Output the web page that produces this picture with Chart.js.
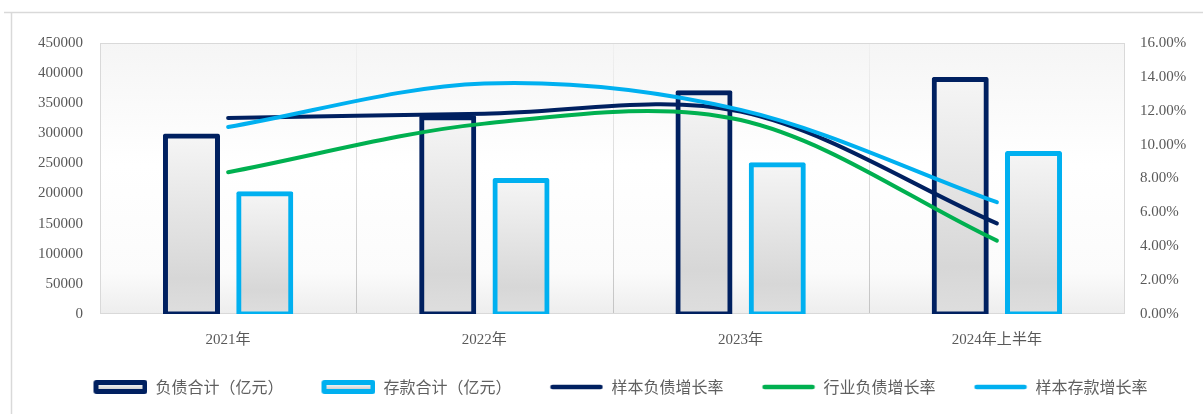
<!DOCTYPE html>
<html>
<head>
<meta charset="utf-8">
<script src="https://cdn.jsdelivr.net/npm/chart.js@4.4.1/dist/chart.umd.min.js"></script>
<style>
  html, body { margin: 0; padding: 0; background: #ffffff; }
  #wrap { width: 1203px; height: 414px; position: relative; }
  canvas { display: block; }
</style>
</head>
<body>
<div id="wrap"><canvas id="c" width="1203" height="414"></canvas></div>
<script>
// Categories (years)
const categories = ['2021年', '2022年', '2023年', '2024年上半年'];

// Totals, 亿元 (left axis)
const liabilitiesTotal = [295500, 326000, 367500, 389500];
const depositsTotal = [199500, 221500, 248000, 266500];

// Growth rates, % (right axis)
const sampleLiabilityGrowth = [11.57, 11.83, 11.95, 5.35];
const industryLiabilityGrowth = [8.37, 11.24, 11.45, 4.33];
const sampleDepositGrowth = [11.04, 13.61, 12.05, 6.60];

// Axis tick settings
const leftMax = 450000, leftStep = 50000;
const rightMax = 16, rightStep = 2;

const NAVY = '#002060';
const SKY = '#00B0F0';
const GREEN = '#00B050';
const TEXT = '#595959';

// Legend icon geometry: transparent lead-in gap, then the 54px icon
const ICON_GAP = 28, ICON_W = 54, ICON_H = 14;

// Vertical grey gradient inside each bar
function barFill(context) {
  const chart = context.chart;
  if (!chart.chartArea || context.type !== 'data') return '#e3e3e3';
  const y = chart.scales.y;
  const top = y.getPixelForValue(context.raw);
  const base = y.getPixelForValue(0);
  const g = chart.ctx.createLinearGradient(0, top, 0, base);
  g.addColorStop(0, '#f5f5f5');
  g.addColorStop(0.8, '#d7d7d7');
  g.addColorStop(1, '#dedede');
  return g;
}

function iconCanvas() {
  const c = document.createElement('canvas');
  c.width = ICON_GAP + ICON_W; c.height = ICON_H;
  return c;
}

// Legend icon for a bar series: thick coloured frame around a grey stripe
function barSwatch(color) {
  const c = iconCanvas();
  const g = c.getContext('2d');
  const x0 = ICON_GAP;
  g.fillStyle = color;
  g.beginPath();
  if (g.roundRect) g.roundRect(x0, 0, ICON_W, ICON_H, 3); else g.rect(x0, 0, ICON_W, ICON_H);
  g.fill();
  const gr = g.createLinearGradient(0, 5, 0, 9);
  gr.addColorStop(0, '#f0f0f0');
  gr.addColorStop(1, '#d2d2d2');
  g.fillStyle = gr;
  g.fillRect(x0 + 5, 5, ICON_W - 10, 4);
  return c;
}

// Legend icon for a line series: short round-capped stroke
function lineSwatch(color) {
  const c = iconCanvas();
  const g = c.getContext('2d');
  g.strokeStyle = color;
  g.lineWidth = 4.5;
  g.lineCap = 'round';
  g.beginPath();
  g.moveTo(ICON_GAP + 3, ICON_H / 2);
  g.lineTo(ICON_GAP + ICON_W - 3, ICON_H / 2);
  g.stroke();
  return c;
}

// Outer frame lines around the figure
const outerFrame = {
  id: 'outerFrame',
  beforeDraw(chart) {
    const ctx = chart.ctx;
    ctx.save();
    ctx.strokeStyle = '#d9d9d9';
    ctx.lineWidth = 1.5;
    ctx.beginPath();
    ctx.moveTo(4, 12.5); ctx.lineTo(chart.width, 12.5);
    ctx.moveTo(11.5, 12); ctx.lineTo(11.5, chart.height);
    ctx.stroke();
    ctx.restore();
  }
};

// Plot area backdrop: soft vertical gradient, band separators, thin border
const plotBackdrop = {
  id: 'plotBackdrop',
  beforeDatasetsDraw(chart) {
    const { ctx, chartArea: a, scales: { x } } = chart;
    ctx.save();
    const g = ctx.createLinearGradient(0, a.top, 0, a.bottom);
    g.addColorStop(0, '#f5f5f5');
    g.addColorStop(0.45, '#ffffff');
    g.addColorStop(0.85, '#fbfbfb');
    g.addColorStop(1, '#ededed');
    ctx.fillStyle = g;
    ctx.fillRect(a.left, a.top, a.width, a.height);

    const sg = ctx.createLinearGradient(0, a.top, 0, a.bottom);
    sg.addColorStop(0, '#f0f0f0');
    sg.addColorStop(1, '#c4c4c4');
    ctx.strokeStyle = sg;
    ctx.lineWidth = 1;
    ctx.beginPath();
    for (let i = 0; i < categories.length - 1; i++) {
      const px = Math.round((x.getPixelForTick(i) + x.getPixelForTick(i + 1)) / 2) + 0.5;
      ctx.moveTo(px, a.top);
      ctx.lineTo(px, a.bottom);
    }
    ctx.stroke();

    ctx.strokeStyle = '#d9d9d9';
    ctx.strokeRect(a.left + 0.5, a.top + 0.5, a.width - 1, a.height - 1);
    ctx.restore();
  }
};

const legendIcons = {
  0: barSwatch(NAVY),
  1: barSwatch(SKY),
  2: lineSwatch(NAVY),
  3: lineSwatch(GREEN),
  4: lineSwatch(SKY)
};
const tickFont = { family: '"Liberation Serif", "Noto Sans CJK SC", serif', size: 15 };

new Chart(document.getElementById('c'), {
  type: 'bar',
  data: {
    labels: categories,
    datasets: [
      {
        type: 'bar', label: '负债合计（亿元）', data: liabilitiesTotal, yAxisID: 'y',
        borderColor: NAVY, backgroundColor: barFill, borderWidth: 5, borderRadius: 2,
        borderSkipped: false, inflateAmount: 2.5,
        barPercentage: 0.71, categoryPercentage: 0.572, order: 3
      },
      {
        type: 'bar', label: '存款合计（亿元）', data: depositsTotal, yAxisID: 'y',
        borderColor: SKY, backgroundColor: barFill, borderWidth: 5, borderRadius: 2,
        borderSkipped: false, inflateAmount: 2.5,
        barPercentage: 0.71, categoryPercentage: 0.572, order: 3
      },
      {
        type: 'line', label: '样本负债增长率', data: sampleLiabilityGrowth, yAxisID: 'y1',
        borderColor: NAVY, backgroundColor: NAVY, borderWidth: 4, tension: 0.33,
        pointRadius: 0, borderCapStyle: 'round', fill: false, order: 1
      },
      {
        type: 'line', label: '行业负债增长率', data: industryLiabilityGrowth, yAxisID: 'y1',
        borderColor: GREEN, backgroundColor: GREEN, borderWidth: 4, tension: 0.33,
        pointRadius: 0, borderCapStyle: 'round', fill: false, order: 2
      },
      {
        type: 'line', label: '样本存款增长率', data: sampleDepositGrowth, yAxisID: 'y1',
        borderColor: SKY, backgroundColor: SKY, borderWidth: 4, tension: 0.33,
        pointRadius: 0, borderCapStyle: 'round', fill: false, order: 0
      }
    ]
  },
  options: {
    responsive: false,
    animation: false,
    devicePixelRatio: 1,
    layout: { padding: { top: 43, left: 10, right: 0, bottom: 9 } },
    scales: {
      x: {
        offset: true,
        grid: { display: false, drawTicks: false },
        border: { display: false },
        ticks: { color: TEXT, font: tickFont, padding: 17, maxRotation: 0 },
        afterFit(scale) { scale.height = 55; }
      },
      y: {
        position: 'left', min: 0, max: leftMax,
        grid: { display: false, drawTicks: false },
        border: { display: false },
        ticks: { stepSize: leftStep, color: TEXT, font: tickFont, padding: 17,
          callback: v => String(v) },
        afterFit(scale) { scale.width = 90; }
      },
      y1: {
        position: 'right', min: 0, max: rightMax,
        grid: { display: false, drawTicks: false },
        border: { display: false },
        ticks: {
          stepSize: rightStep, color: TEXT, font: tickFont, padding: 15,
          callback: v => v.toFixed(2) + '%'
        },
        afterFit(scale) { scale.width = 78; }
      }
    },
    plugins: {
      tooltip: { enabled: false },
      legend: {
        position: 'bottom',
        labels: {
          usePointStyle: true,
          pointStyleWidth: ICON_GAP + ICON_W,
          padding: 10,
          color: '#5f5f5f',
          font: { family: '"Noto Sans CJK SC", sans-serif', size: 16 },
          sort: (a, b) => a.datasetIndex - b.datasetIndex,
          generateLabels(chart) {
            const items = Chart.defaults.plugins.legend.labels.generateLabels(chart);
            items.forEach(it => { it.pointStyle = legendIcons[it.datasetIndex]; });
            return items;
          }
        }
      }
    }
  },
  plugins: [outerFrame, plotBackdrop]
});
</script>
</body>
</html>
